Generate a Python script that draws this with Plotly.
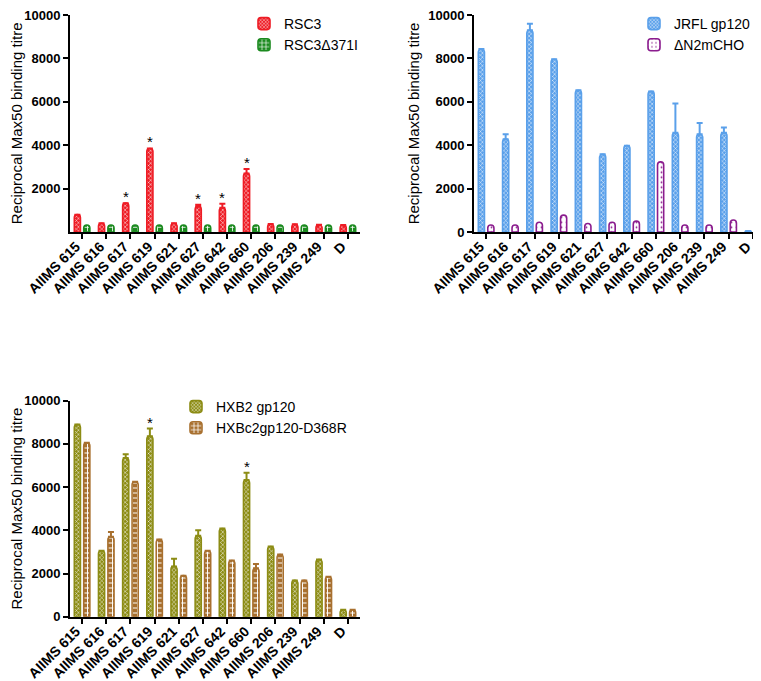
import plotly.graph_objects as go

categories = ["AIIMS 615", "AIIMS 616", "AIIMS 617", "AIIMS 619", "AIIMS 621", "AIIMS 627",
              "AIIMS 642", "AIIMS 660", "AIIMS 206", "AIIMS 239", "AIIMS 249", "D"]

# Panel 1
rsc3 = [800, 400, 1330, 3850, 400, 1180, 1120, 2700, 370, 360, 330, 320]
rsc3_err = [None, None, None, None, None, 80, 180, 200, None, None, None, None]
rsc3_d371i = [320, 320, 320, 320, 320, 320, 320, 320, 320, 320, 320, 320]
panel1_stars = ["AIIMS 617", "AIIMS 619", "AIIMS 627", "AIIMS 642", "AIIMS 660"]

# Panel 2
jrfl = [8430, 4280, 9300, 7960, 6530, 3580, 3980, 6480, 4570, 4500, 4570, 40]
jrfl_err = [None, 230, 300, None, None, None, None, None, 1350, 520, 250, None]
dn2mcho = [320, 320, 450, 780, 390, 450, 500, 3230, 320, 320, 550, 320]

# Panel 3
hxb2 = [8900, 3050, 7350, 8350, 2330, 3750, 4080, 6330, 3250, 1680, 2650, 320]
hxb2_err = [None, None, 170, 360, 350, 250, None, 340, None, None, None, None]
hxbc2_d368r = [8050, 3700, 6250, 3570, 1900, 3050, 2600, 2240, 2880, 1680, 1850, 320]
hxbc2_err = [None, 220, None, None, None, None, None, 200, None, None, None, None]
panel3_stars = ["AIIMS 619", "AIIMS 660"]

y_ticks_p1 = [2000, 4000, 6000, 8000, 10000]
y_ticks = [0, 2000, 4000, 6000, 8000, 10000]

RED = "#EE1C25"
GREEN = "#1B8A1F"
BLUE = "#5AA0EA"
PURPLE = "#8B1C8E"
OLIVE = "#8C8C14"
BROWN = "#A8702F"

W, H = 761, 681
FONT = "Arial, Liberation Sans, sans-serif"
YMAX = 10010


def err(vals, color):
    vis = any(v is not None for v in vals)
    return dict(type="data", symmetric=False, array=[v if v is not None else float("nan") for v in vals],
                arrayminus=[0] * len(vals), color=color, thickness=2, width=3, visible=vis)


def bar(name, vals, color, errs, xa, ya, legend, pattern_shape, fg, bg, size=3, solidity=0.3):
    return go.Bar(
        name=name, x=categories, y=vals, xaxis=xa, yaxis=ya, legend=legend,
        marker=dict(color=bg, line=dict(color=color, width=1.6),
                    pattern=dict(shape=pattern_shape, fgcolor=fg, bgcolor=bg, size=size,
                                 solidity=solidity, fillmode="replace")),
        error_y=err(errs, color) if errs is not None else None,
    )


fig = go.Figure()
fig.add_trace(bar("RSC3", rsc3, RED, rsc3_err, "x", "y", "legend", "x", "white", RED))
fig.add_trace(bar("RSC3\u0394371I", rsc3_d371i, GREEN, None, "x", "y", "legend", "+", "white", GREEN, size=5, solidity=0.3))
fig.add_trace(bar("JRFL gp120", jrfl, BLUE, jrfl_err, "x2", "y2", "legend2", "x", "white", BLUE))
fig.add_trace(bar("\u0394N2mCHO", dn2mcho, PURPLE, None, "x2", "y2", "legend2", ".", PURPLE, "white", size=5, solidity=0.1))
fig.add_trace(bar("HXB2 gp120", hxb2, OLIVE, hxb2_err, "x3", "y3", "legend3", "x", "white", OLIVE))
fig.add_trace(bar("HXBc2gp120-D368R", hxbc2_d368r, BROWN, hxbc2_err, "x3", "y3", "legend3", "+", "white", BROWN, size=5, solidity=0.35))


def px_x(a, b):
    return [a / W, b / W]


def px_y(top, bottom):
    return [(H - bottom) / H, (H - top) / H]


axis_common = dict(showline=True, linecolor="black", linewidth=2, ticks="outside",
                   ticklen=5, tickwidth=2, tickcolor="black", showgrid=False, zeroline=False,
                   automargin=False, ticklabeloverflow="allow")
xfont = dict(family=FONT, size=14, color="black", weight="bold")
yfont = dict(family=FONT, size=13, color="black", weight="bold")
title_font = dict(family=FONT, size=15, color="black")
leg_font = dict(family=FONT, size=14, color="black")

xaxis_common = dict(range=[-0.5, 11.5], tickangle=-45, tickfont=xfont, ticklabelstandoff=-6,
                    ticklabelshift=-6, **axis_common)

fig.update_layout(
    width=W, height=H, margin=dict(l=0, r=0, t=0, b=0),
    paper_bgcolor="white", plot_bgcolor="white",
    barmode="group", bargap=0.22, bargroupgap=0.35, barcornerradius=3,
    font=dict(family=FONT, color="black"),
    xaxis=dict(domain=px_x(62, 352), anchor="y", **xaxis_common),
    yaxis=dict(domain=px_y(6.8, 224), anchor="x", range=[0, YMAX], tickvals=y_ticks_p1, tickformat="d",
               tickfont=yfont, title=dict(text="Reciprocal Max50 binding titre", font=title_font, standoff=5),
               **axis_common),
    xaxis2=dict(domain=px_x(466, 757), anchor="y2", **xaxis_common),
    yaxis2=dict(domain=px_y(6.8, 224), anchor="x2", range=[0, YMAX], tickvals=y_ticks, tickformat="d",
                tickfont=yfont, title=dict(text="Reciprocal Max50 binding titre", font=title_font, standoff=5),
                **axis_common),
    xaxis3=dict(domain=px_x(62, 352), anchor="y3", **xaxis_common),
    yaxis3=dict(domain=px_y(392.5, 608.7), anchor="x3", range=[0, YMAX], tickvals=y_ticks, tickformat="d",
                tickfont=yfont, title=dict(text="Reciprocal Max50 binding titre", font=title_font, standoff=5),
                **axis_common),
    legend=dict(x=236 / W, y=1.0, xanchor="left", yanchor="top", bgcolor="rgba(0,0,0,0)", font=leg_font),
    legend2=dict(x=626 / W, y=1.0, xanchor="left", yanchor="top", bgcolor="rgba(0,0,0,0)", font=leg_font),
    legend3=dict(x=168 / W, y=(H - 383) / H, xanchor="left", yanchor="top", bgcolor="rgba(0,0,0,0)",
                 font=leg_font),
)

annotations = []
for c in panel1_stars:
    i = categories.index(c)
    top = rsc3[i] + (rsc3_err[i] or 0)
    annotations.append(dict(x=c, y=top, xref="x", yref="y", text="*", showarrow=False,
                            xshift=-4.7, yanchor="bottom", yshift=-4,
                            font=dict(family=FONT, size=15, color="black")))
for c in panel3_stars:
    i = categories.index(c)
    top = hxb2[i] + (hxb2_err[i] or 0)
    annotations.append(dict(x=c, y=top, xref="x3", yref="y3", text="*", showarrow=False,
                            xshift=-4.7, yanchor="bottom", yshift=-4,
                            font=dict(family=FONT, size=15, color="black")))
fig.update_layout(annotations=annotations)

fig.write_html("out.html")
